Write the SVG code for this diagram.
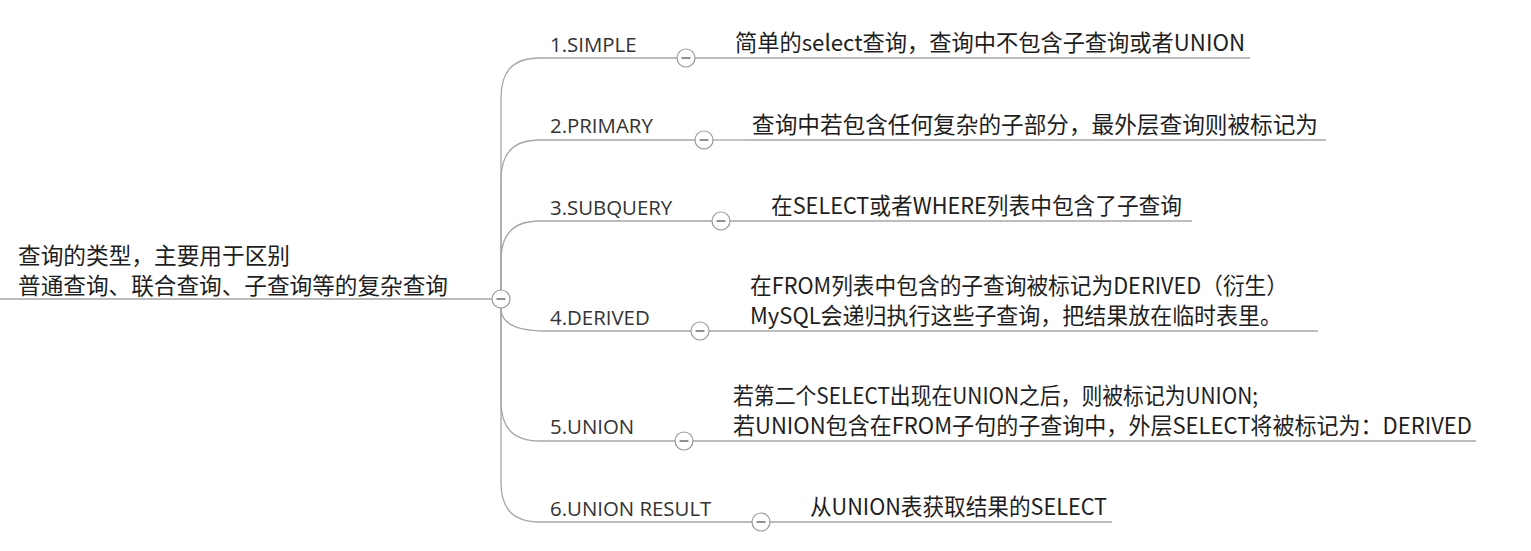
<svg xmlns="http://www.w3.org/2000/svg" width="1531" height="551" viewBox="0 0 1531 551">
<style>
text{font-family:"Noto Sans CJK SC","Noto Sans",sans-serif;font-size:22.5px;fill:#1e1e1e}
.lbl{font-family:"Open Sans","Noto Sans CJK SC",sans-serif;font-size:20.4px;fill:#333}
.ln{fill:none;stroke:#a6a6a6;stroke-width:1.3}
.ul{fill:none;stroke:#a6a6a6;stroke-width:1.3}
.tc{fill:#fff;stroke:#9a9a9a;stroke-width:1.2}
.tm{stroke:#555;stroke-width:1.3}
</style>
<defs>
<g id="tog"><circle class="tc" cx="0" cy="0" r="9"/><line class="tm" x1="-4.5" y1="0" x2="4.5" y2="0"/></g>
</defs>
<rect width="1531" height="551" fill="#fff"/>
<g id="connectors">
<path class="ln" d="M501 290 L501 98 C501 72 512 58 540 58 L677 58"/>
<path class="ln" d="M501 290 L501 180 C501 154 512 140 540 140 L695 140"/>
<path class="ln" d="M501 290 L501 261 C501 235 512 221 540 221 L712 221"/>
<path class="ln" d="M501 308 C501 322 514 331 545 331 L691 331"/>
<path class="ln" d="M501 308 L501 401 C501 427 512 441 540 441 L675 441"/>
<path class="ln" d="M501 308 L501 482 C501 508 512 522 540 522 L752 522"/>
<path class="ln" d="M695 58 L730 58"/>
<path class="ln" d="M713 140 L745 140"/>
<path class="ln" d="M730 221 L764 221"/>
<path class="ln" d="M709 331 L744 331"/>
<path class="ln" d="M693 441 L727 441"/>
<path class="ln" d="M770 522 L804 522"/>
</g>
<g id="root">
<path class="ul" d="M0 299 L492 299"/>
<text x="18" y="264" textLength="272" lengthAdjust="spacingAndGlyphs">查询的类型，主要用于区别</text>
<text x="18" y="294" textLength="430" lengthAdjust="spacingAndGlyphs">普通查询、联合查询、子查询等的复杂查询</text>
<use href="#tog" x="501" y="299"/>
</g>
<g id="b1">
<text class="lbl" x="550" y="52">1.SIMPLE</text>
<use href="#tog" x="686" y="58"/>
</g>
<g id="d1">
<path class="ul" d="M730 58 L1250 58"/>
<text x="735" y="51" textLength="510" lengthAdjust="spacingAndGlyphs">简单的select查询，查询中不包含子查询或者UNION</text>
</g>
<g id="b2">
<text class="lbl" x="550" y="133">2.PRIMARY</text>
<use href="#tog" x="704" y="140"/>
</g>
<g id="d2">
<path class="ul" d="M745 140 L1326 140"/>
<text x="752" y="133" textLength="566" lengthAdjust="spacingAndGlyphs">查询中若包含任何复杂的子部分，最外层查询则被标记为</text>
</g>
<g id="b3">
<text class="lbl" x="550" y="215">3.SUBQUERY</text>
<use href="#tog" x="721" y="221"/>
</g>
<g id="d3">
<path class="ul" d="M764 221 L1192 221"/>
<text x="771" y="214" textLength="411" lengthAdjust="spacingAndGlyphs">在SELECT或者WHERE列表中包含了子查询</text>
</g>
<g id="b4">
<text class="lbl" x="550" y="325">4.DERIVED</text>
<use href="#tog" x="700" y="331"/>
</g>
<g id="d4">
<path class="ul" d="M744 331 L1318 331"/>
<text x="750" y="294" textLength="538" lengthAdjust="spacingAndGlyphs">在FROM列表中包含的子查询被标记为DERIVED（衍生）</text>
<text x="750" y="324" textLength="532" lengthAdjust="spacingAndGlyphs">MySQL会递归执行这些子查询，把结果放在临时表里。</text>
</g>
<g id="b5">
<text class="lbl" x="550" y="434">5.UNION</text>
<use href="#tog" x="684" y="441"/>
</g>
<g id="d5">
<path class="ul" d="M727 441 L1476 441"/>
<text x="733" y="404" textLength="525" lengthAdjust="spacingAndGlyphs">若第二个SELECT出现在UNION之后，则被标记为UNION;</text>
<text x="733" y="434" textLength="739" lengthAdjust="spacingAndGlyphs">若UNION包含在FROM子句的子查询中，外层SELECT将被标记为：DERIVED</text>
</g>
<g id="b6">
<text class="lbl" x="550" y="516">6.UNION RESULT</text>
<use href="#tog" x="761" y="522"/>
</g>
<g id="d6">
<path class="ul" d="M804 522 L1112 522"/>
<text x="810" y="515" textLength="297" lengthAdjust="spacingAndGlyphs">从UNION表获取结果的SELECT</text>
</g>
</svg>
